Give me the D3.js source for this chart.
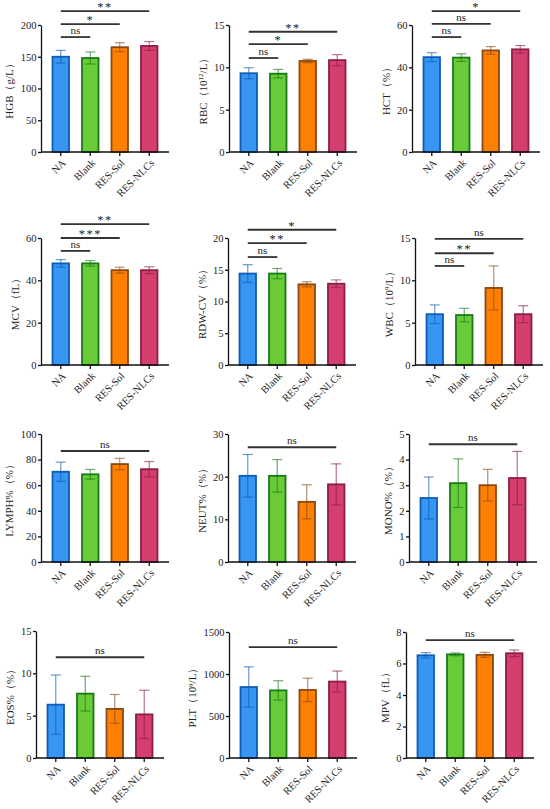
<!DOCTYPE html>
<html>
<head>
<meta charset="utf-8">
<script src="https://cdn.jsdelivr.net/npm/d3@7"></script>
<style>
  body { margin: 0; background: #fff; }
  svg { display: block; }
  text { font-family: "Liberation Serif", "Times New Roman", serif; fill: #222; }
</style>
</head>
<body>
<svg width="550" height="809"></svg>
<script>
const categories = ["NA", "Blank", "RES-Sol", "RES-NLCs"];

// mean and SD per group
const hgbMean = [150, 148, 165, 167],   hgbSd = [10, 9.5, 7, 7];
const rbcMean = [9.3, 9.25, 10.75, 10.85], rbcSd = [0.65, 0.5, 0.2, 0.65];
const hctMean = [44.8, 44.6, 48.0, 48.5], hctSd = [2.1, 1.8, 1.8, 1.8];
const mcvMean = [48.0, 48.0, 44.8, 44.8], mcvSd = [1.8, 1.3, 1.4, 1.6];
const rdwMean = [14.4, 14.4, 12.7, 12.8], rdwSd = [1.4, 0.8, 0.4, 0.6];
const wbcMean = [6.0, 5.9, 9.1, 6.0],   wbcSd = [1.1, 0.8, 2.6, 1.0];
const lymMean = [70.5, 68.5, 76.5, 72.5], lymSd = [7.5, 3.8, 4.5, 6.0];
const neuMean = [20.2, 20.2, 14.1, 18.2], neuSd = [5.0, 3.8, 4.0, 4.8];
const monMean = [2.5, 3.08, 3.0, 3.28],  monSd = [0.82, 0.95, 0.62, 1.04];
const eosMean = [6.3, 7.6, 5.8, 5.15],   eosSd = [3.5, 2.05, 1.7, 2.85];
const pltMean = [845, 805, 810, 910],    pltSd = [240, 115, 140, 125];
const mpvMean = [6.52, 6.58, 6.55, 6.65], mpvSd = [0.17, 0.09, 0.16, 0.21];

// y tick values
const hgbTicks = [0, 50, 100, 150, 200];
const rbcTicks = [0, 5, 10, 15];
const hctTicks = [0, 20, 40, 60];
const mcvTicks = [0, 20, 40, 60];
const rdwTicks = [0, 5, 10, 15, 20];
const wbcTicks = [0, 5, 10, 15];
const lymTicks = [0, 20, 40, 60, 80, 100];
const neuTicks = [0, 10, 20, 30];
const monTicks = [0, 1, 2, 3, 4, 5];
const eosTicks = [0, 5, 10, 15];
const pltTicks = [0, 500, 1000, 1500];
const mpvTicks = [0, 2, 4, 6, 8];

// significance brackets: NA vs group index, label, height in data units
const hgbSig = [[1, "ns", 181], [2, "*", 201.5], [3, "**", 222]];
const rbcSig = [[1, "ns", 11.1], [2, "*", 12.75], [3, "**", 14.2]];
const hctSig = [[1, "ns", 54.3], [2, "ns", 60.5], [3, "*", 66.6]];
const mcvSig = [[1, "ns", 53.9], [2, "***", 60], [3, "**", 66.6]];
const rdwSig = [[1, "ns", 17.0], [2, "**", 19.2], [3, "*", 21.3]];
const wbcSig = [[1, "ns", 11.7], [2, "**", 13.2], [3, "ns", 14.9]];
const lymSig = [[3, "ns", 86.7]];
const neuSig = [[3, "ns", 26.9]];
const monSig = [[3, "ns", 4.6]];
const eosSig = [[3, "ns", 11.9]];
const pltSig = [[3, "ns", 1321]];
const mpvSig = [[3, "ns", 7.49]];

const fills   = ["#3896f3", "#69cb38", "#ff8000", "#d43f6e"];
const strokes = ["#0d5cb6", "#177a17", "#8a4812", "#8c1d45"];

const panels = [
  {label: [["HGB（g/L）"]], mean: hgbMean, sd: hgbSd, ticks: hgbTicks, sig: hgbSig},
  {label: [["RBC（10"], ["12", true], ["/L）"]], mean: rbcMean, sd: rbcSd, ticks: rbcTicks, sig: rbcSig},
  {label: [["HCT（%）"]], mean: hctMean, sd: hctSd, ticks: hctTicks, sig: hctSig},
  {label: [["MCV（fL）"]], mean: mcvMean, sd: mcvSd, ticks: mcvTicks, sig: mcvSig},
  {label: [["RDW-CV（%）"]], mean: rdwMean, sd: rdwSd, ticks: rdwTicks, sig: rdwSig},
  {label: [["WBC（10"], ["9", true], ["/L）"]], mean: wbcMean, sd: wbcSd, ticks: wbcTicks, sig: wbcSig},
  {label: [["LYMPH%（%）"]], mean: lymMean, sd: lymSd, ticks: lymTicks, sig: lymSig},
  {label: [["NEUT%（%）"]], mean: neuMean, sd: neuSd, ticks: neuTicks, sig: neuSig},
  {label: [["MONO%（%）"]], mean: monMean, sd: monSd, ticks: monTicks, sig: monSig},
  {label: [["EOS%（%）"]], mean: eosMean, sd: eosSd, ticks: eosTicks, sig: eosSig},
  {label: [["PLT（10"], ["9", true], ["/L）"]], mean: pltMean, sd: pltSd, ticks: pltTicks, sig: pltSig},
  {label: [["MPV（fL）"]], mean: mpvMean, sd: mpvSd, ticks: mpvTicks, sig: mpvSig}
];

// axis x, plot top, plot bottom for each panel
const layout = [
  [41, 25, 152], [229, 25, 152], [412, 25, 152],
  [41, 238, 365], [228, 238, 365], [415, 238, 365],
  [41, 434, 562], [228, 434, 562], [409, 434, 562],
  [36, 631, 758], [229, 632, 758], [406, 632, 758]
];
const axisLen = 128;

const svg = d3.select("svg");

panels.forEach((p, i) => {
  const [x0, top, bottom] = layout[i];
  const g = svg.append("g");

  const x = d3.scaleBand().domain(categories)
    .range([x0, x0 + axisLen]).paddingInner(0.38).paddingOuter(0.36);
  const y = d3.scaleLinear().domain([0, d3.max(p.ticks)]).range([bottom, top]);

  const rows = categories.map((c, k) => ({c: c, k: k, m: p.mean[k], s: p.sd[k]}));

  // bars
  g.selectAll(".bar").data(rows).enter().append("rect")
    .attr("x", d => x(d.c) + 0.9)
    .attr("width", x.bandwidth() - 1.8)
    .attr("y", d => y(d.m))
    .attr("height", d => y(0) - y(d.m))
    .attr("fill", d => fills[d.k])
    .attr("stroke", d => strokes[d.k])
    .attr("stroke-width", 1.8);

  // error bars
  const eb = g.selectAll(".eb").data(rows).enter().append("g")
    .attr("stroke", d => strokes[d.k])
    .attr("stroke-opacity", 0.62)
    .attr("stroke-width", 1.2);
  const cx = d => x(d.c) + x.bandwidth() / 2;
  eb.append("line").attr("x1", cx).attr("x2", cx)
    .attr("y1", d => y(d.m - d.s)).attr("y2", d => y(d.m + d.s));
  eb.append("line").attr("x1", d => cx(d) - 5).attr("x2", d => cx(d) + 5)
    .attr("y1", d => y(d.m + d.s)).attr("y2", d => y(d.m + d.s));
  eb.append("line").attr("x1", d => cx(d) - 5).attr("x2", d => cx(d) + 5)
    .attr("y1", d => y(d.m - d.s)).attr("y2", d => y(d.m - d.s));

  // y axis
  const ya = g.append("g").attr("transform", `translate(${x0},0)`)
    .call(d3.axisLeft(y).tickValues(p.ticks).tickFormat(d3.format("d"))
      .tickSize(3).tickPadding(1.5).tickSizeOuter(0));
  ya.attr("font-family", null);
  ya.selectAll("path, line").attr("stroke", "#111").attr("stroke-width", 1.3);
  ya.selectAll("text").attr("font-size", 10.5).attr("fill", "#222");

  let tw = 0;
  ya.selectAll("text").each(function () { tw = Math.max(tw, this.getComputedTextLength()); });

  // x axis
  const xa = g.append("g").attr("transform", `translate(0,${bottom})`)
    .call(d3.axisBottom(x).tickSize(4).tickSizeOuter(0));
  xa.attr("font-family", null);
  xa.select(".domain").attr("d", `M${x0},0H${x0 + axisLen}`);
  xa.selectAll("path, line").attr("stroke", "#111").attr("stroke-width", 1.3);
  xa.selectAll("text")
    .attr("font-size", 10.5).attr("fill", "#222")
    .attr("x", 0).attr("y", 0).attr("dy", "0.35em")
    .attr("text-anchor", "end")
    .attr("transform", "translate(3,9) rotate(-45)");

  // y label
  const lx = x0 - tw - 12;
  const ly = (top + bottom) / 2;
  const lab = g.append("text")
    .attr("transform", `translate(${lx},${ly}) rotate(-90)`)
    .attr("text-anchor", "middle")
    .attr("font-size", 11);
  p.label.forEach(part => {
    const t = lab.append("tspan").text(part[0]);
    if (part[1]) t.attr("font-size", 7).attr("dy", "-0.45em");
    else if (lab.selectAll("tspan").size() > 1) t.attr("dy", "0.3em");
  });

  // significance brackets
  const sg = g.selectAll(".sig").data(p.sig).enter().append("g");
  sg.append("line")
    .attr("x1", x.bandwidth() / 2 + x(categories[0]))
    .attr("x2", d => x(categories[d[0]]) + x.bandwidth() / 2)
    .attr("y1", d => y(d[2])).attr("y2", d => y(d[2]))
    .attr("stroke", "#333").attr("stroke-width", 1.8);
  sg.append("text")
    .attr("x", d => (x(categories[0]) + x(categories[d[0]])) / 2 + x.bandwidth() / 2)
    .attr("y", d => y(d[2]) - (d[1] === "ns" ? 3 : 0))
    .attr("text-anchor", "middle")
    .attr("font-size", d => d[1] === "ns" ? 11 : 12.5)
    .attr("letter-spacing", d => d[1] === "ns" ? 0 : 1.5)
    .attr("fill", "#333")
    .text(d => d[1]);
});
</script>
</body>
</html>
